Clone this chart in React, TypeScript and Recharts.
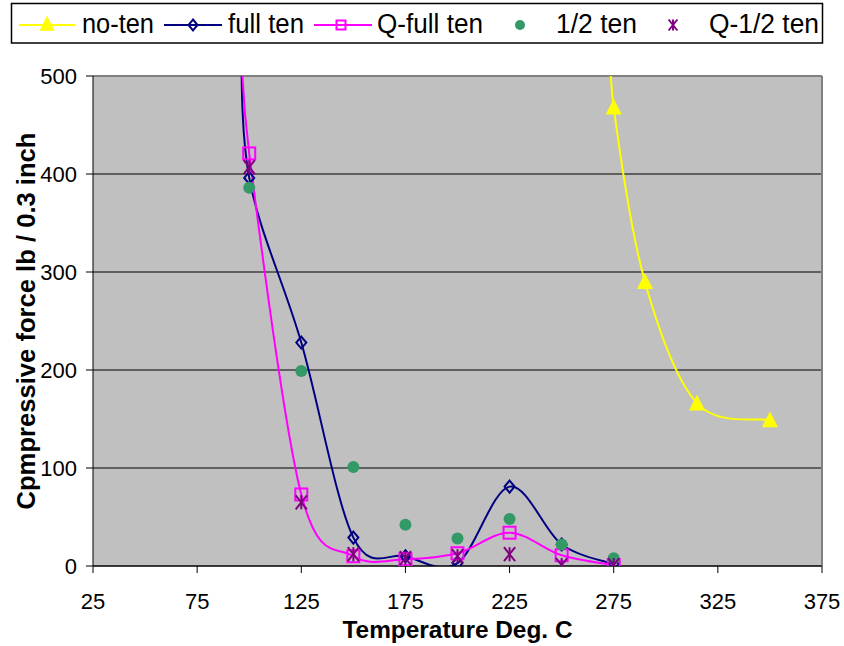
import React from "react";
import { ComposedChart, Line, Scatter, XAxis, YAxis, CartesianGrid, ReferenceLine } from "recharts";

// temperature (deg C) and compressive force (lb / 0.3 inch)
// first points of the three smoothed series lie above the 500 limit and are clipped
const noTenX = [273, 275, 290, 315, 350];
const noTenY = [560, 468, 290, 166, 149];

const fullTenX = [96, 100, 125, 150, 175, 200, 225, 250, 275];
const fullTenY = [560, 396, 228, 29, 10, 3, 81, 22, 2];

const qFullTenX = [96, 100, 125, 150, 175, 200, 225, 250, 275];
const qFullTenY = [560, 421, 73, 10, 7, 13, 34, 11, 1];

const halfTenX = [100, 125, 150, 175, 200, 225, 250, 275];
const halfTenY = [386, 199, 101, 42, 28, 48, 22, 8];

const qHalfTenX = [100, 125, 150, 175, 200, 225, 250, 275];
const qHalfTenY = [407, 65, 12, 8, 10, 12, 1, 1];

const xTicks = [25, 75, 125, 175, 225, 275, 325, 375];
const yTicks = [0, 100, 200, 300, 400, 500];

const zip = (xs: number[], ys: number[]) => xs.map((x, i) => ({ x, y: ys[i] }));

const FONT = "'Liberation Sans', Arial, sans-serif";

// excel-like smoothing (catmull-rom through the points)
function excelSmooth(context: any) {
  let pts: number[][] = [];
  return {
    areaStart() {},
    areaEnd() {},
    lineStart() {
      pts = [];
    },
    point(x: number, y: number) {
      pts.push([+x, +y]);
    },
    lineEnd() {
      const n = pts.length;
      if (!n) return;
      context.moveTo(pts[0][0], pts[0][1]);
      for (let i = 0; i < n - 1; i++) {
        const p0 = pts[Math.max(i - 1, 0)];
        const p1 = pts[i];
        const p2 = pts[i + 1];
        const p3 = pts[Math.min(i + 2, n - 1)];
        context.bezierCurveTo(
          p1[0] + (p2[0] - p0[0]) / 6,
          p1[1] + (p2[1] - p0[1]) / 6,
          p2[0] - (p3[0] - p1[0]) / 6,
          p2[1] - (p3[1] - p1[1]) / 6,
          p2[0],
          p2[1]
        );
      }
    },
  };
}

const Triangle = ({ cx, cy, s = 16 }: any) => (
  <polygon points={`${cx},${cy - s * 0.55} ${cx - s / 2},${cy + s * 0.45} ${cx + s / 2},${cy + s * 0.45}`} fill="#FFFF00" />
);
const Diamond = ({ cx, cy, s = 12 }: any) => (
  <polygon points={`${cx},${cy - s / 2} ${cx + s / 2 - 1},${cy} ${cx},${cy + s / 2} ${cx - s / 2 + 1},${cy}`} fill="none" stroke="#000080" strokeWidth={2} />
);
const Square = ({ cx, cy, s = 12 }: any) => (
  <rect x={cx - s / 2} y={cy - s / 2} width={s} height={s} fill="none" stroke="#FF00FF" strokeWidth={2} />
);
const Dot = ({ cx, cy, r = 6 }: any) => <circle cx={cx} cy={cy} r={r} fill="#339966" />;
const Star = ({ cx, cy, s = 14 }: any) => {
  const h = s / 2;
  const w = s * 0.4;
  return (
    <g stroke="#800080" strokeWidth={2}>
      <line x1={cx - w} y1={cy - h} x2={cx + w} y2={cy + h} />
      <line x1={cx - w} y1={cy + h} x2={cx + w} y2={cy - h} />
      <line x1={cx} y1={cy - h} x2={cx} y2={cy + h} />
    </g>
  );
};

const dotFn = (Shape: any) => (p: any) => {
  if (p.cx == null || p.cy == null || p.cy < 76) return <g key={p.key} />;
  return <Shape key={p.key} cx={p.cx} cy={p.cy} />;
};

function ChartLegend() {
  const ty = 33;
  const text = (x: number, len: number, s: string) => (
    <text x={x} y={ty} fontFamily={FONT} fontSize={27} textLength={len} lengthAdjust="spacingAndGlyphs" fill="#000">
      {s}
    </text>
  );
  return (
    <svg width={844} height={50} style={{ position: "absolute", left: 0, top: 0 }}>
      <rect x={11.5} y={3.5} width={811} height={39.5} fill="#fff" stroke="#000" strokeWidth={1.5} />
      <line x1={19} x2={75} y1={25} y2={25} stroke="#FFFF00" strokeWidth={2} />
      <Triangle cx={47} cy={24} s={15} />
      {text(82, 72, "no-ten")}
      <line x1={164} x2={222} y1={25} y2={25} stroke="#000080" strokeWidth={2} />
      <Diamond cx={193} cy={25} s={11} />
      {text(228, 76, "full ten")}
      <line x1={314} x2={372} y1={25} y2={25} stroke="#FF00FF" strokeWidth={2} />
      <Square cx={341} cy={25} s={9} />
      {text(377, 106, "Q-full ten")}
      <Dot cx={520} cy={25} r={5} />
      {text(556, 81, "1/2 ten")}
      <Star cx={673} cy={25} s={11} />
      {text(709, 110, "Q-1/2 ten")}
    </svg>
  );
}

const XTitle = (props: any) => {
  const { x, y, width } = props.viewBox;
  return (
    <text x={x + width / 2} y={y + 72} textAnchor="middle" fontFamily={FONT} fontSize={24} fontWeight="bold" textLength={230} lengthAdjust="spacingAndGlyphs" fill="#000">
      Temperature Deg. C
    </text>
  );
};

const YTitle = (props: any) => {
  const { y, height } = props.viewBox;
  const cx = 35;
  const cy = y + height / 2;
  return (
    <text x={cx} y={cy} transform={`rotate(-90 ${cx} ${cy})`} textAnchor="middle" fontFamily={FONT} fontSize={25} fontWeight="bold" textLength={377} lengthAdjust="spacingAndGlyphs" fill="#000">
      Cpmpressive force lb / 0.3 inch
    </text>
  );
};

export default function App() {
  return (
    <div style={{ position: "fixed", left: 0, top: 0, width: 844, height: 646, overflow: "hidden", background: "#fff" }}>
      <ComposedChart width={844} height={646} margin={{ top: 76, right: 22, bottom: 20, left: 13 }}>
        <CartesianGrid vertical={false} horizontal fill="#C0C0C0" stroke="#000" strokeOpacity={1} />
        <XAxis
          type="number"
          dataKey="x"
          domain={[25, 375]}
          ticks={xTicks}
          interval={0}
          height={60}
          tickSize={7}
          tickMargin={20}
          stroke="#000"
          tick={{ fill: "#000", fontSize: 22, fontFamily: FONT }}
          label={XTitle}
        />
        <YAxis
          type="number"
          domain={[0, 500]}
          ticks={yTicks}
          interval={0}
          allowDataOverflow
          width={80}
          tickSize={7}
          tickMargin={9}
          stroke="#000"
          tick={{ fill: "#000", fontSize: 22, fontFamily: FONT }}
          label={YTitle}
        />
        <ReferenceLine y={500} stroke="#808080" strokeWidth={2} />
        <ReferenceLine x={375} stroke="#808080" strokeWidth={2} />
        <Line data={zip(noTenX, noTenY)} dataKey="y" name="no-ten" type={excelSmooth as any} stroke="#FFFF00" strokeWidth={2} dot={dotFn(Triangle)} activeDot={false} isAnimationActive={false} />
        <Line data={zip(fullTenX, fullTenY)} dataKey="y" name="full ten" type={excelSmooth as any} stroke="#000080" strokeWidth={2} dot={dotFn(Diamond)} activeDot={false} isAnimationActive={false} />
        <Line data={zip(qFullTenX, qFullTenY)} dataKey="y" name="Q-full ten" type={excelSmooth as any} stroke="#FF00FF" strokeWidth={2} dot={dotFn(Square)} activeDot={false} isAnimationActive={false} />
        <Scatter data={zip(halfTenX, halfTenY)} dataKey="y" name="1/2 ten" shape={(p: any) => <Dot cx={p.cx} cy={p.cy} />} isAnimationActive={false} />
        <Scatter data={zip(qHalfTenX, qHalfTenY)} dataKey="y" name="Q-1/2 ten" shape={(p: any) => <Star cx={p.cx} cy={p.cy} />} isAnimationActive={false} />
      </ComposedChart>
      <ChartLegend />
    </div>
  );
}
